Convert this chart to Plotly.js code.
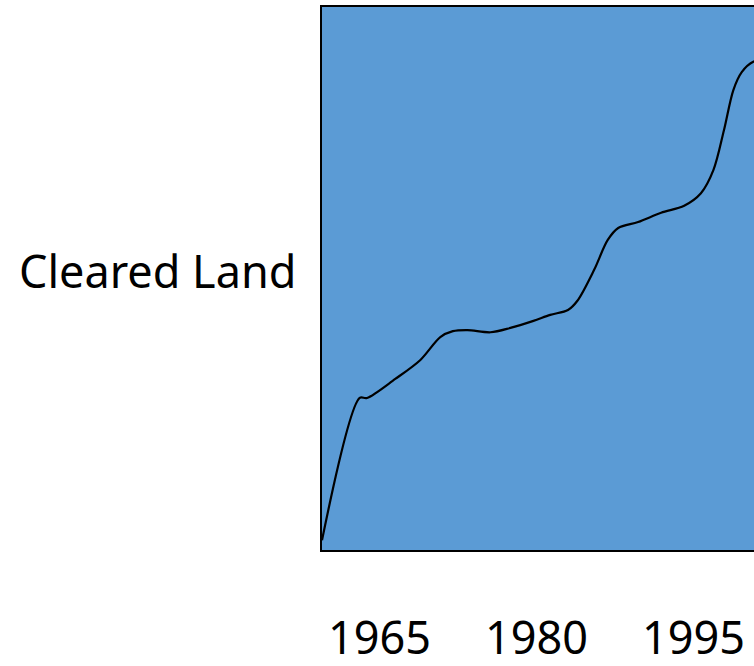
<!DOCTYPE html>
<html>
<head>
<meta charset="utf-8">
<script src="https://cdn.plot.ly/plotly-3.0.1.min.js"></script>
<style>
    html, body { margin: 0; padding: 0; overflow: hidden; background: #ffffff; }
    #chart { width: 800px; height: 666px; }
</style>
</head>
<body>
<div id="chart"></div>
<script>
// values (year, cleared land, arbitrary units 0-100)
var years = [1959.5, 1963.1, 1963.8, 1966.5, 1968.9, 1970.8, 1972.0, 1973.4, 1975.6,
    1977.5, 1979.7, 1981.3, 1983.0, 1983.9, 1985.5, 1986.8, 1987.8, 1989.7, 1991.9,
    1994.1, 1995.7, 1996.9, 1997.9, 1998.8, 1999.6, 2000.7, 2002.0];
var clearedLand = [1.8, 28.0, 28.0, 31.5, 35.0, 39.2, 40.3, 40.5, 40.1,
    40.9, 42.2, 43.3, 44.2, 45.9, 51.6, 57.1, 59.3, 60.4, 62.1,
    63.4, 65.7, 70.0, 77.3, 84.7, 88.0, 89.9, 90.3];
var tickYears = [1965, 1980, 1995];
var tickLabels = ['1965', '1980', '1995'];
var yTitle = 'Cleared Land';

var font = 'Noto Sans, Liberation Sans, sans-serif';

var traces = [{
    x: years,
    y: clearedLand,
    mode: 'lines',
    line: { color: '#000000', width: 2.2, shape: 'spline', smoothing: 0.9 },
    hoverinfo: 'skip'
}];

var layout = {
    width: 800,
    height: 666,
    margin: { l: 322, r: 30, t: 7, b: 116 },
    paper_bgcolor: '#ffffff',
    plot_bgcolor: '#5b9bd5',
    showlegend: false,
    xaxis: {
        range: [1959.5, 2002.3],
        showgrid: false,
        zeroline: false,
        showline: true,
        mirror: true,
        linecolor: '#000000',
        linewidth: 2,
        tickmode: 'array',
        tickvals: tickYears,
        ticktext: tickLabels,
        ticks: 'outside',
        ticklen: 48,
        tickcolor: 'rgba(0,0,0,0)',
        tickfont: { family: font, size: 45, color: '#000000' }
    },
    yaxis: {
        range: [0, 100],
        showgrid: false,
        zeroline: false,
        showline: true,
        mirror: true,
        linecolor: '#000000',
        linewidth: 2,
        showticklabels: false,
        ticks: ''
    },
    annotations: [{
        text: yTitle,
        xref: 'paper',
        yref: 'paper',
        x: 0,
        y: 0.5,
        xanchor: 'right',
        yanchor: 'middle',
        xshift: -24,
        yshift: 8,
        showarrow: false,
        font: { family: font, size: 45, color: '#000000' }
    }]
};

Plotly.newPlot('chart', traces, layout, { displayModeBar: false, staticPlot: true });
</script>
</body>
</html>
